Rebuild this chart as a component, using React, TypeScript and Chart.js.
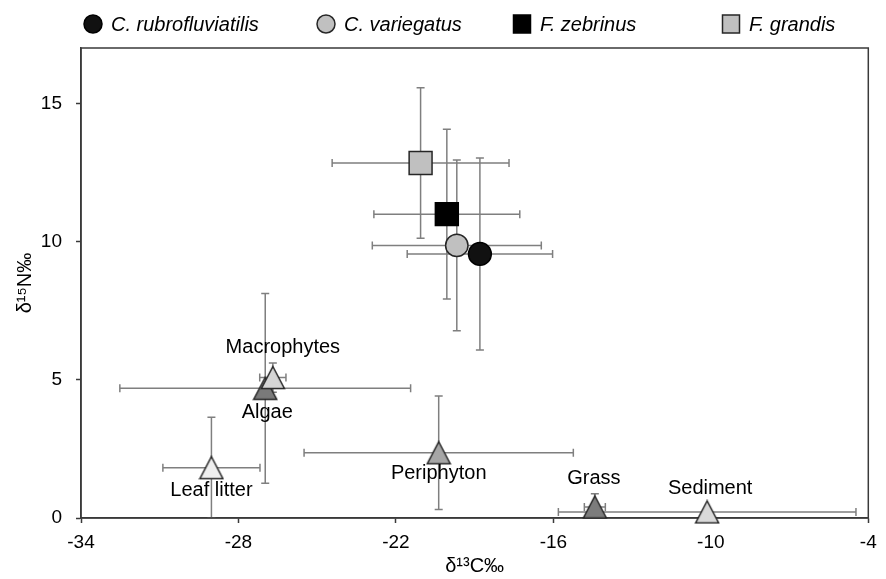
import React, { useEffect, useRef } from "react";
import { Chart, registerables } from "chart.js";

Chart.register(...registerables);

// ---------------- data ----------------
const fishNames = ["C. rubrofluviatilis", "C. variegatus", "F. zebrinus", "F. grandis"];
const fishX = [-18.8, -19.68, -20.06, -21.06];
const fishY = [9.55, 9.86, 10.99, 12.84];
const fishXErr = [2.77, 3.22, 2.78, 3.37];
const fishYErr = [3.47, 3.09, 3.07, 2.72];

const sourceNames = ["Leaf litter", "Algae", "Macrophytes", "Periphyton", "Grass", "Sediment"];
const sourceX = [-29.03, -26.98, -26.69, -20.37, -14.42, -10.14];
const sourceY = [1.82, 4.69, 5.08, 2.36, 0.4, 0.22];
const sourceXErr = [1.85, 5.54, 0.5, 5.13, 0.4, 5.67];
const sourceYErr = [1.82, 3.43, 0.53, 2.05, 0.48, 0];

const xTicks = [-34, -28, -22, -16, -10, -4];
const yTicks = [0, 5, 10, 15];

// ---------------- styles / layout ----------------
const FONT = "'Liberation Sans', Arial, Helvetica, sans-serif";
const fishFill = ["#111111", "#c0c0c0", "#000000", "#c0c0c0"];
const fishStroke = ["#000000", "#262626", "#000000", "#262626"];
const fishStyle = ["circle", "circle", "rect", "rect"];
const fishRadius = [11.4, 11.2, 16.2, 16.2];
const sourceFill = ["#efefef", "#7a7a7a", "#d6d6d6", "#a6a6a6", "#7c7c7c", "#d9d9d9"];
const labelDx = [0, 2, 10, 0, -1, 3];
const labelDy = [23, 24, -30, 21, -28, -23];
const legendX = [93, 326, 522, 731];
const legendY = 24;

function makeTriangle(fill: string): HTMLCanvasElement {
  const w = 22.5;
  const h = 21.5;
  const pad = 1.5;
  const c = document.createElement("canvas");
  c.width = Math.ceil(w + pad * 2);
  c.height = Math.ceil(h + pad * 2);
  const g = c.getContext("2d")!;
  g.beginPath();
  g.moveTo(c.width / 2, pad);
  g.lineTo(c.width - pad, c.height - pad);
  g.lineTo(pad, c.height - pad);
  g.closePath();
  g.fillStyle = fill;
  g.fill();
  g.lineWidth = 1.5;
  g.strokeStyle = "#262626";
  g.stroke();
  return c;
}

const errorBarPlugin = {
  id: "errorBars",
  beforeDatasetsDraw(chart: any) {
    const { ctx, chartArea } = chart;
    const xs = chart.scales.x;
    const ys = chart.scales.y;
    ctx.save();
    ctx.beginPath();
    ctx.rect(chartArea.left, chartArea.top, chartArea.right - chartArea.left, chartArea.bottom - chartArea.top);
    ctx.clip();
    ctx.strokeStyle = "#7f7f7f";
    ctx.lineWidth = 1.5;
    const cap = 4;
    chart.data.datasets.forEach((ds: any) => {
      ds.data.forEach((p: any, i: number) => {
        const ex = ds.errX[i];
        const ey = ds.errY[i];
        const px = xs.getPixelForValue(p.x);
        const py = ys.getPixelForValue(p.y);
        ctx.beginPath();
        if (ex) {
          const l = xs.getPixelForValue(p.x - ex);
          const r = xs.getPixelForValue(p.x + ex);
          ctx.moveTo(l, py); ctx.lineTo(r, py);
          ctx.moveTo(l, py - cap); ctx.lineTo(l, py + cap);
          ctx.moveTo(r, py - cap); ctx.lineTo(r, py + cap);
        }
        if (ey) {
          const t = ys.getPixelForValue(p.y + ey);
          const b = ys.getPixelForValue(p.y - ey);
          ctx.moveTo(px, t); ctx.lineTo(px, b);
          ctx.moveTo(px - cap, t); ctx.lineTo(px + cap, t);
          ctx.moveTo(px - cap, b); ctx.lineTo(px + cap, b);
        }
        ctx.stroke();
      });
    });
    ctx.restore();
  },
};

const frameAndLabelsPlugin = {
  id: "frameLabels",
  beforeDatasetsDraw(chart: any) {
    const { ctx, chartArea } = chart;
    ctx.save();
    ctx.strokeStyle = "#3a3a3a";
    ctx.lineWidth = 1.5;
    ctx.strokeRect(chartArea.left, chartArea.top, chartArea.right - chartArea.left, chartArea.bottom - chartArea.top);
    ctx.restore();
  },
  afterDatasetsDraw(chart: any) {
    const { ctx } = chart;
    const xs = chart.scales.x;
    const ys = chart.scales.y;
    ctx.save();
    ctx.fillStyle = "#000";
    ctx.font = `20px ${FONT}`;
    ctx.textAlign = "center";
    ctx.textBaseline = "middle";
    sourceNames.forEach((name, i) => {
      const px = xs.getPixelForValue(sourceX[i]);
      const py = ys.getPixelForValue(sourceY[i]);
      ctx.fillText(name, px + labelDx[i], py + labelDy[i]);
    });
    ctx.restore();
  },
  afterDraw(chart: any) {
    const { ctx } = chart;
    ctx.save();
    fishNames.forEach((name, i) => {
      const cx = legendX[i];
      const cy = legendY;
      ctx.fillStyle = fishFill[i];
      ctx.strokeStyle = fishStroke[i];
      ctx.lineWidth = 1.5;
      ctx.beginPath();
      if (fishStyle[i] === "circle") ctx.arc(cx, cy, 9, 0, Math.PI * 2);
      else ctx.rect(cx - 8.5, cy - 9, 17, 18);
      ctx.fill();
      ctx.stroke();
      ctx.fillStyle = "#000";
      ctx.font = `italic 20px ${FONT}`;
      ctx.textAlign = "left";
      ctx.textBaseline = "middle";
      ctx.fillText(name, cx + 18, cy + 1);
    });
    ctx.restore();
  },
};

export default function App() {
  const ref = useRef<HTMLCanvasElement | null>(null);

  useEffect(() => {
    if (!ref.current) return;
    const triangles = sourceFill.map((c) => makeTriangle(c));
    const fishDatasets = fishNames.map((name, i) => ({
      label: name,
      data: [{ x: fishX[i], y: fishY[i] }],
      errX: [fishXErr[i]],
      errY: [fishYErr[i]],
      pointStyle: fishStyle[i],
      pointRadius: fishRadius[i],
      pointHoverRadius: fishRadius[i],
      backgroundColor: fishFill[i],
      borderColor: fishStroke[i],
      borderWidth: 1.5,
      clip: false as any,
    }));
    const sourceDataset = {
      label: "Sources",
      data: sourceNames.map((_, i) => ({ x: sourceX[i], y: sourceY[i] })),
      errX: sourceXErr,
      errY: sourceYErr,
      pointStyle: (c: any) => triangles[c.dataIndex],
      pointRadius: 12,
      backgroundColor: sourceFill,
      borderColor: "#262626",
      borderWidth: 1.5,
      clip: false as any,
    };

    const chart = new Chart(ref.current, {
      type: "scatter",
      data: { datasets: [sourceDataset as any, ...(fishDatasets as any[])] },
      options: {
        animation: false,
        responsive: true,
        maintainAspectRatio: false,
        events: [],
        layout: { padding: { top: 48, right: 13, left: 0, bottom: 0 } },
        plugins: { legend: { display: false }, tooltip: { enabled: false } },
        scales: {
          x: {
            type: "linear",
            min: -34,
            max: -4,
            afterBuildTicks: (s: any) => {
              s.ticks = xTicks.map((v) => ({ value: v }));
            },
            afterFit: (s: any) => {
              s.height = 61;
            },
            grid: { display: true, drawOnChartArea: false, drawTicks: true, tickLength: 5, tickColor: "#3a3a3a", tickWidth: 1.5 },
            border: { display: true, color: "#3a3a3a", width: 1.5 },
            ticks: { color: "#000", font: { family: FONT, size: 19 }, padding: 8, maxRotation: 0, autoSkip: false },
            title: { display: true, text: "δ¹³C‰", color: "#000", font: { family: FONT, size: 20 }, padding: { top: 0, bottom: 1 } },
          },
          y: {
            type: "linear",
            min: 0,
            max: 17,
            afterBuildTicks: (s: any) => {
              s.ticks = yTicks.map((v) => ({ value: v }));
            },
            afterFit: (s: any) => {
              s.width = 81;
            },
            grid: { display: true, drawOnChartArea: false, drawTicks: true, tickLength: 5, tickColor: "#3a3a3a", tickWidth: 1.5 },
            border: { display: true, color: "#3a3a3a", width: 1.5 },
            ticks: { color: "#000", font: { family: FONT, size: 19 }, padding: 14 },
            title: { display: true, text: "δ¹⁵N‰", color: "#000", font: { family: FONT, size: 20 }, padding: { top: 13, bottom: 0 } },
          },
        },
      },
      plugins: [errorBarPlugin, frameAndLabelsPlugin],
    });
    return () => chart.destroy();
  }, []);

  return (
    <div style={{ position: "fixed", left: 0, top: 0, width: 886, height: 579, background: "#fff" }}>
      <canvas ref={ref} />
    </div>
  );
}
